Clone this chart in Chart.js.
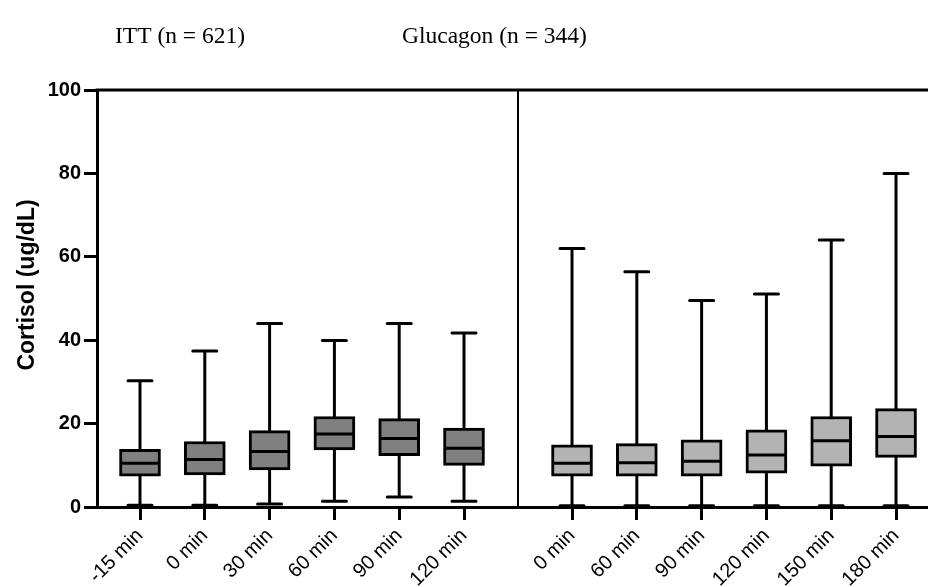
<!DOCTYPE html>
<html>
<head>
<meta charset="utf-8">
<script src="https://cdn.jsdelivr.net/npm/chart.js@4.4.1/dist/chart.umd.min.js"></script>
<style>
  html, body { margin: 0; padding: 0; background: #fff; }
  #wrap { width: 928px; height: 587px; }
</style>
</head>
<body>
<div id="wrap"><canvas id="boxChart"></canvas></div>
<script>
// --- data ---
const groupTitles = ['ITT (n = 621)', 'Glucagon (n = 344)'];
const yTitle = 'Cortisol (ug/dL)';
const ittLabels = ['-15 min', '0 min', '30 min', '60 min', '90 min', '120 min'];
const glucLabels = ['0 min', '60 min', '90 min', '120 min', '150 min', '180 min'];

const ittMin    = [0.4, 0.4, 0.7, 1.4, 2.4, 1.4];
const ittQ1     = [7.4, 7.7, 8.9, 13.7, 12.3, 10.0];
const ittMedian = [10.5, 11.4, 13.3, 17.5, 16.4, 14.1];
const ittQ3     = [13.8, 15.7, 18.3, 21.7, 21.2, 18.9];
const ittMax    = [30.3, 37.4, 44.0, 39.9, 44.0, 41.7];

const glucMin    = [0.3, 0.3, 0.3, 0.3, 0.3, 0.3];
const glucQ1     = [7.4, 7.4, 7.4, 8.1, 9.8, 11.9];
const glucMedian = [10.5, 10.6, 11.0, 12.5, 15.9, 16.9];
const glucQ3     = [14.9, 15.2, 16.1, 18.5, 21.7, 23.6];
const glucMax    = [62.0, 56.4, 49.5, 51.1, 64.0, 80.0];

const yTicks = [0, 20, 40, 60, 80, 100];

// --- layout of the category slots on a linear x scale ---
const GROUP_GAP = 1.667;                    // extra space between the two panels
const ittX = ittLabels.map((_, i) => i + 1);
const glucX = glucLabels.map((_, i) => ittLabels.length + GROUP_GAP + i);
const dividerX = ittLabels.length + GROUP_GAP / 2;
const allX = ittX.concat(glucX);
const allLabels = ittLabels.concat(glucLabels);

function boxes(xs, q1, q3) {
    return xs.map((x, i) => ({ x: x, y: [q1[i], q3[i]] }));
}

const whiskerSets = [
    { xs: ittX, min: ittMin, max: ittMax, med: ittMedian },
    { xs: glucX, min: glucMin, max: glucMax, med: glucMedian }
];

// whiskers behind the boxes, medians / frame / titles on top
const boxPlotExtras = {
    id: 'boxPlotExtras',
    beforeDatasetsDraw(chart) {
        const ctx = chart.ctx, xs = chart.scales.x, ys = chart.scales.y;
        ctx.save();
        ctx.strokeStyle = '#000';
        ctx.lineWidth = 3;
        ctx.lineCap = 'round';
        whiskerSets.forEach(s => {
            s.xs.forEach((xv, i) => {
                const px = xs.getPixelForValue(xv);
                const yMax = ys.getPixelForValue(s.max[i]);
                const yMin = ys.getPixelForValue(s.min[i]);
                ctx.beginPath();
                ctx.moveTo(px, yMax); ctx.lineTo(px, yMin);
                ctx.moveTo(px - 12, yMax); ctx.lineTo(px + 12, yMax);
                ctx.moveTo(px - 12, yMin); ctx.lineTo(px + 12, yMin);
                ctx.stroke();
            });
        });
        ctx.restore();
    },
    afterDatasetsDraw(chart) {
        const ctx = chart.ctx, xs = chart.scales.x, ys = chart.scales.y;
        const area = chart.chartArea;
        ctx.save();
        ctx.strokeStyle = '#000';
        ctx.lineWidth = 3;
        whiskerSets.forEach(s => {
            s.xs.forEach((xv, i) => {
                const px = xs.getPixelForValue(xv);
                const py = ys.getPixelForValue(s.med[i]);
                ctx.beginPath();
                ctx.moveTo(px - 19, py); ctx.lineTo(px + 19, py);
                ctx.stroke();
            });
        });
        // top frame line
        ctx.beginPath();
        ctx.moveTo(area.left - 1.5, area.top); ctx.lineTo(area.right, area.top);
        ctx.stroke();
        // divider between panels
        const dx = xs.getPixelForValue(dividerX);
        ctx.lineWidth = 2;
        ctx.beginPath();
        ctx.moveTo(dx, area.top); ctx.lineTo(dx, area.bottom);
        ctx.stroke();
        // panel titles
        ctx.fillStyle = '#000';
        ctx.font = '23.5px "Liberation Serif", "Times New Roman", serif';
        ctx.textBaseline = 'alphabetic';
        ctx.fillText(groupTitles[0], 115, 43);
        ctx.fillText(groupTitles[1], 402, 43);
        // y axis title
        ctx.translate(28, 285);
        ctx.rotate(-Math.PI / 2);
        ctx.font = 'bold 23px "Liberation Sans", Arial, sans-serif';
        ctx.textAlign = 'center';
        ctx.textBaseline = 'middle';
        ctx.fillText(yTitle, 0, 0);
        ctx.restore();
    }
};

function initChart() {
    if (typeof Chart === 'undefined') {
        console.warn('Chart.js Not Loaded.');
        return;
    }
    const ctx = document.getElementById('boxChart');
    new Chart(ctx, {
        type: 'bar',
        data: {
            datasets: [
                {
                    label: groupTitles[0],
                    data: boxes(ittX, ittQ1, ittQ3),
                    backgroundColor: '#808080',
                    borderColor: '#000',
                    borderWidth: 3,
                    borderSkipped: false,
                    barThickness: 41
                },
                {
                    label: groupTitles[1],
                    data: boxes(glucX, glucQ1, glucQ3),
                    backgroundColor: '#b3b3b3',
                    borderColor: '#000',
                    borderWidth: 3,
                    borderSkipped: false,
                    barThickness: 41
                }
            ]
        },
        options: {
            responsive: true,
            maintainAspectRatio: false,
            animation: false,
            grouped: false,
            layout: { padding: { top: 90, left: 0, right: 0, bottom: 0 } },
            plugins: { legend: { display: false }, tooltip: { enabled: false } },
            scales: {
                x: {
                    type: 'linear',
                    offset: false,
                    min: 1 - 43 / 64.8,
                    max: 1 + 788 / 64.8,
                    afterBuildTicks: (axis) => { axis.ticks = allX.map(v => ({ value: v })); },
                    afterFit: (axis) => { axis.height = 80; },
                    grid: { display: true, offset: false, drawOnChartArea: false, drawTicks: true, tickLength: 13, tickWidth: 3, tickColor: '#000' },
                    border: { display: true, color: '#000', width: 3 },
                    ticks: {
                        autoSkip: false,
                        minRotation: 45,
                        maxRotation: 45,
                        padding: 4,
                        color: '#000',
                        font: { family: '"Liberation Sans", Arial, sans-serif', size: 20 },
                        callback: (value, index) => allLabels[index]
                    }
                },
                y: {
                    min: 0,
                    max: 100,
                    afterBuildTicks: (axis) => { axis.ticks = yTicks.map(v => ({ value: v })); },
                    afterFit: (axis) => { axis.width = 97; },
                    grid: { display: true, drawOnChartArea: false, drawTicks: true, tickLength: 13, tickWidth: 3, tickColor: '#000' },
                    border: { display: true, color: '#000', width: 3 },
                    ticks: {
                        padding: 3,
                        color: '#000',
                        font: { family: '"Liberation Sans", Arial, sans-serif', size: 20, weight: 'bold' }
                    },
                    title: { display: false }
                }
            }
        },
        plugins: [boxPlotExtras]
    });
}

document.addEventListener('DOMContentLoaded', () => {
    try {
        initChart();
    } catch (error) {
        console.error('Chart Rendering Error:', error);
    }
});
</script>
</body>
</html>
